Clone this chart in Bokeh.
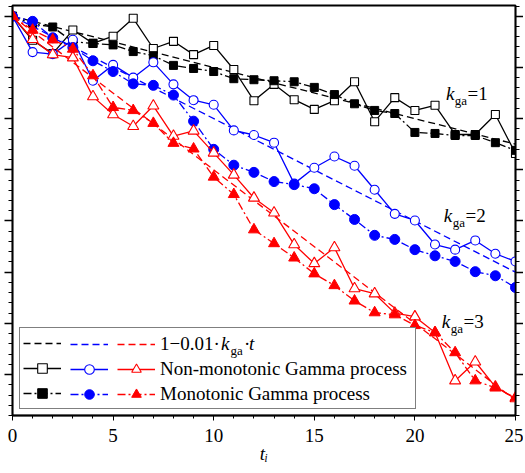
from bokeh.plotting import figure
from bokeh.models import (Range1d, LinearAxis, SingleIntervalTicker, Legend, LegendItem, Label,
                          CustomJSTickFormatter)
from bokeh.embed import file_html
from bokeh.resources import INLINE

# ---------------- data ----------------
t = list(range(26))

black_nm = [1.0, 0.953, 0.927, 0.973, 0.947, 0.961, 0.996, 0.937, 0.951, 0.925, 0.943, 0.896, 0.835,
            0.867, 0.837, 0.818, 0.835, 0.872, 0.794, 0.841, 0.816, 0.826, 0.769, 0.769, 0.808, 0.732]
black_m = [1.0, 0.985, 0.979, 0.950, 0.947, 0.944, 0.931, 0.923, 0.904, 0.898, 0.892, 0.878, 0.876,
           0.874, 0.872, 0.861, 0.847, 0.829, 0.816, 0.810, 0.773, 0.771, 0.767, 0.767, 0.753, 0.738]
blue_nm = [1.0, 0.930, 0.926, 0.954, 0.874, 0.905, 0.880, 0.910, 0.867, 0.836, 0.827, 0.777, 0.768,
           0.753, 0.673, 0.704, 0.726, 0.708, 0.661, 0.614, 0.601, 0.554, 0.544, 0.562, 0.536, 0.521]
blue_m = [1.0, 0.990, 0.958, 0.939, 0.913, 0.892, 0.868, 0.865, 0.846, 0.795, 0.740, 0.709, 0.695,
          0.677, 0.671, 0.663, 0.632, 0.603, 0.572, 0.564, 0.544, 0.532, 0.521, 0.501, 0.493, 0.470]
red_nm = [1.0, 0.955, 0.925, 0.919, 0.843, 0.808, 0.785, 0.825, 0.766, 0.776, 0.733, 0.690, 0.645,
          0.616, 0.554, 0.517, 0.548, 0.468, 0.458, 0.420, 0.413, 0.382, 0.288, 0.325, 0.276, 0.253]
red_m = [1.0, 0.973, 0.954, 0.936, 0.884, 0.822, 0.816, 0.791, 0.752, 0.741, 0.686, 0.652, 0.583,
         0.556, 0.528, 0.497, 0.474, 0.444, 0.421, 0.417, 0.396, 0.382, 0.343, 0.288, 0.274, 0.255]

theory_t = [0, 25]
theory_k1 = [1.0, 0.75]
theory_k2 = [1.0, 0.50]
theory_k3 = [1.0, 0.25]

legend_labels = ["1\u22120.01\u00b7", "Non-monotonic Gamma process", "Monotonic Gamma process"]
kga_values = ["1", "2", "3"]
kga_x = [21.54, 21.44, 21.34]
kga_y = [0.849, 0.611, 0.404]

FONT = "Liberation Serif"
FS = "19px"

# ---------------- figure ----------------
p = figure(width=523, height=471, x_range=Range1d(0, 25), y_range=Range1d(0.22, 1.021),
           output_backend="svg", toolbar_location=None,
           min_border_left=12, min_border_right=7, min_border_top=5, min_border_bottom=56)
p.xgrid.visible = False
p.ygrid.visible = False
p.outline_line_color = "black"
p.outline_line_width = 1.8
p.background_fill_color = "white"
p.border_fill_color = "white"

# x axis
xa = p.xaxis[0]
xa.ticker = SingleIntervalTicker(interval=5, num_minor_ticks=5)
xa.major_tick_out = 5
xa.major_tick_in = 0
xa.minor_tick_out = 3
xa.minor_tick_in = 0
xa.major_label_standoff = 8
xa.major_label_text_font = FONT
xa.major_label_text_font_size = FS
xa.major_label_text_color = "black"
xa.axis_line_width = 1.5
xa.axis_line_color = "black"
xa.major_tick_line_color = "black"
xa.minor_tick_line_color = "black"
xa.axis_label = "t\u1d62"
xa.axis_label_text_font = FONT
xa.axis_label_text_font_size = FS
xa.axis_label_text_font_style = "italic"
xa.axis_label_text_color = "black"
xa.axis_label_standoff = -2

# y axes (no labels)
def style_y(ax):
    ax.ticker = SingleIntervalTicker(interval=0.1, num_minor_ticks=5)
    ax.formatter = CustomJSTickFormatter(code="return ''")
    ax.major_tick_out = 8
    ax.major_tick_in = 0
    ax.minor_tick_out = 4
    ax.minor_tick_in = 0
    ax.major_label_standoff = 0
    ax.axis_line_width = 1.5
    ax.axis_line_color = "black"
    ax.major_tick_line_color = "black"
    ax.minor_tick_line_color = "black"
    ax.major_tick_line_width = 1.5
    ax.minor_tick_line_width = 1.2

style_y(p.yaxis[0])
ra = LinearAxis()
style_y(ra)
p.add_layout(ra, "right")

# ---------------- glyphs ----------------
LW = 1.3
DASH = "7 4"
DASHDOT = "8 3 2 3"

def draw(color, theory, nm, m, marker, size_open, size_fill):
    rt = p.line(theory_t, theory, line_color=color, line_width=LW, line_dash=DASH)
    rnl = p.line(t, nm, line_color=color, line_width=LW)
    rnp = p.scatter(t, nm, marker=marker, size=size_open, fill_color="white",
                    line_color=color, line_width=1.1)
    rml = p.line(t, m, line_color=color, line_width=LW, line_dash=DASHDOT)
    rmp = p.scatter(t, m, marker=marker, size=size_fill, fill_color=color, line_color=color)
    return [rt], [rnl, rnp], [rml, rmp]

black_r = draw("black", theory_k1, black_nm, black_m, "square", 8, 8)
blue_r = draw("#0000ff", theory_k2, blue_nm, blue_m, "circle", 9, 10)
red_r = draw("#ff0000", theory_k3, red_nm, red_m, "triangle", 11, 11)

# ---------------- legend ----------------
GW, GH = 38, 24

def make_legend(rs, labels, loc, padding=0, label_width=0, font_size=FS, standoff=0,
                border=False, glyph_width=GW, style="normal"):
    items = [LegendItem(label=lab, renderers=r) for lab, r in zip(labels, rs)]
    leg = Legend(items=items, location=loc, padding=padding, spacing=1, margin=0,
                 glyph_width=glyph_width, glyph_height=GH, label_standoff=standoff,
                 label_width=label_width, label_height=0,
                 label_text_font=FONT, label_text_font_size=font_size,
                 label_text_font_style=style, label_text_color="black")
    if border:
        leg.border_line_color = "black"
        leg.border_line_width = 1.5
        leg.background_fill_color = "white"
        leg.background_fill_alpha = 1.0
    else:
        leg.border_line_color = None
        leg.background_fill_alpha = 0.0
    p.add_layout(leg)

make_legend(black_r, ["", "", ""], (7, 6), padding=3, label_width=351, font_size="1px", border=True)
make_legend(blue_r, ["", "", ""], (58, 9), font_size="1px")
make_legend(red_r, legend_labels, (105, 9), standoff=5)

# remaining pieces of the first legend label: k_ga · t  (italic k, subscript ga, italic t)
row1_bottom = 59
x0 = 148 + 61
make_legend([red_r[0]], ["k"], (x0, row1_bottom), glyph_width=0, style="italic")
make_legend([red_r[0]], ["ga"], (x0 + 9.5, row1_bottom - 7), glyph_width=0, font_size="13px")
make_legend([red_r[0]], ["\u00b7"], (x0 + 23, row1_bottom), glyph_width=0)
make_legend([red_r[0]], ["t"], (x0 + 28, row1_bottom), glyph_width=0, style="italic")

# ---------------- k_ga = n labels ----------------
def add_label(text, x, y, size=FS, style="normal"):
    p.add_layout(Label(x=x, y=y, text=text, text_font=FONT,
                       text_font_size=size, text_font_style=style, text_color="black",
                       text_baseline="middle", text_align="left"))

for v, kx, ky in zip(kga_values, kga_x, kga_y):
    add_label("k", kx, ky, style="italic")
    add_label("ga", kx + 0.44, ky - 0.014, size="13px")
    add_label("=" + v, kx + 1.08, ky)

open("out.html", "w").write(file_html(p, INLINE))
